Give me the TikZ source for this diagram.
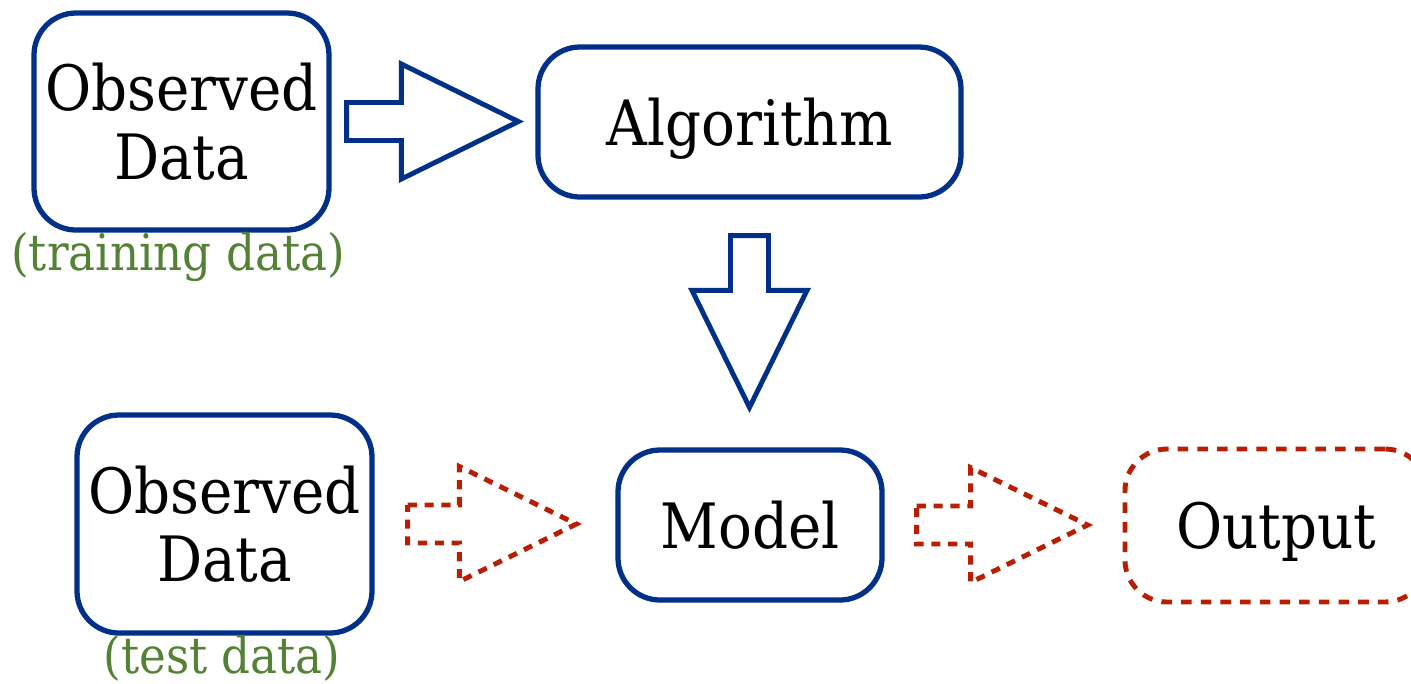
\documentclass[tikz,border=0pt]{standalone}
\usepackage{fontspec}
\setmainfont{DejaVu Serif Condensed}
\usetikzlibrary{calc}
\definecolor{navy}{RGB}{0,48,135}
\definecolor{rust}{RGB}{185,30,5}
\definecolor{leaf}{RGB}{84,130,53}
\tikzset{
    box/.style={draw=navy, line width=1.5pt, rounded corners=0.42cm, align=center,
        inner sep=0pt, font=\fontsize{17.8}{19.5}\selectfont},
    outbox/.style={box, draw=rust, line width=1.4pt, dash pattern=on 3pt off 2.6pt},
    note/.style={text=leaf, font=\fontsize{14.3}{16}\selectfont},
    bigarrow/.style={draw=navy, line width=1.4pt, to path={
        ($(\tikztostart)!0.19cm!90:(\tikztotarget)$)
        -- ($(\tikztotarget)!1.17cm!(\tikztostart)!0.19cm!-90:(\tikztostart)$)
        -- ($(\tikztotarget)!1.17cm!(\tikztostart)!0.575cm!-90:(\tikztostart)$)
        -- (\tikztotarget)
        -- ($(\tikztotarget)!1.17cm!(\tikztostart)!0.575cm!90:(\tikztostart)$)
        -- ($(\tikztotarget)!1.17cm!(\tikztostart)!0.19cm!90:(\tikztostart)$)
        -- ($(\tikztostart)!0.19cm!-90:(\tikztotarget)$)
        -- cycle}},
    redarrow/.style={bigarrow, draw=rust, dash pattern=on 2.6pt off 2.2pt}
}
\begin{document}
\begin{tikzpicture}
    \useasboundingbox (0,0) rectangle (14.11,-6.83);
    % upper row: training
    \node[box, minimum width=2.95cm, minimum height=2.17cm] (obs1) at (1.815,-1.215) {Observed\\Data};
    \node[note] (train) at (1.78,-2.57) {(training data)};
    \node[box, text depth=0pt, minimum width=4.23cm, minimum height=1.50cm] (alg) at (7.495,-1.22) {Algorithm};
    % lower row: test
    \node[box, minimum width=2.95cm, minimum height=2.18cm] (obs2) at (2.245,-5.24) {Observed\\Data};
    \node[note] (test) at (2.22,-6.58) {(test data)};
    \node[box, minimum width=2.64cm, minimum height=1.50cm] (model) at (7.50,-5.25) {Model};
    \node[outbox, text depth=0pt, minimum width=3.02cm, minimum height=1.53cm] (out) at (12.76,-5.255) {Output};
    % arrow ends
    \coordinate (t1) at ($(obs1.east)+(0.15,0)$);
    \coordinate (h1) at ($(t1 -| alg.west)+(-0.17,0)$);
    \coordinate (t2) at ($(alg.south)+(0,-0.36)$);
    \coordinate (h2) at ($(t2 |- model.north)+(0,0.40)$);
    \coordinate (t3) at ($(obs2.east)+(0.33,0)$);
    \coordinate (h3) at ($(t3 -| model.west)+(-0.39,0)$);
    \coordinate (t4) at ($(model.east)+(0.32,0)$);
    \coordinate (h4) at ($(t4 -| out.west)+(-0.35,0)$);
    \draw[bigarrow] (t1) to (h1);
    \draw[bigarrow] (t2) to (h2);
    \draw[redarrow] (t3) to (h3);
    \draw[redarrow] (t4) to (h4);
\end{tikzpicture}
\end{document}
